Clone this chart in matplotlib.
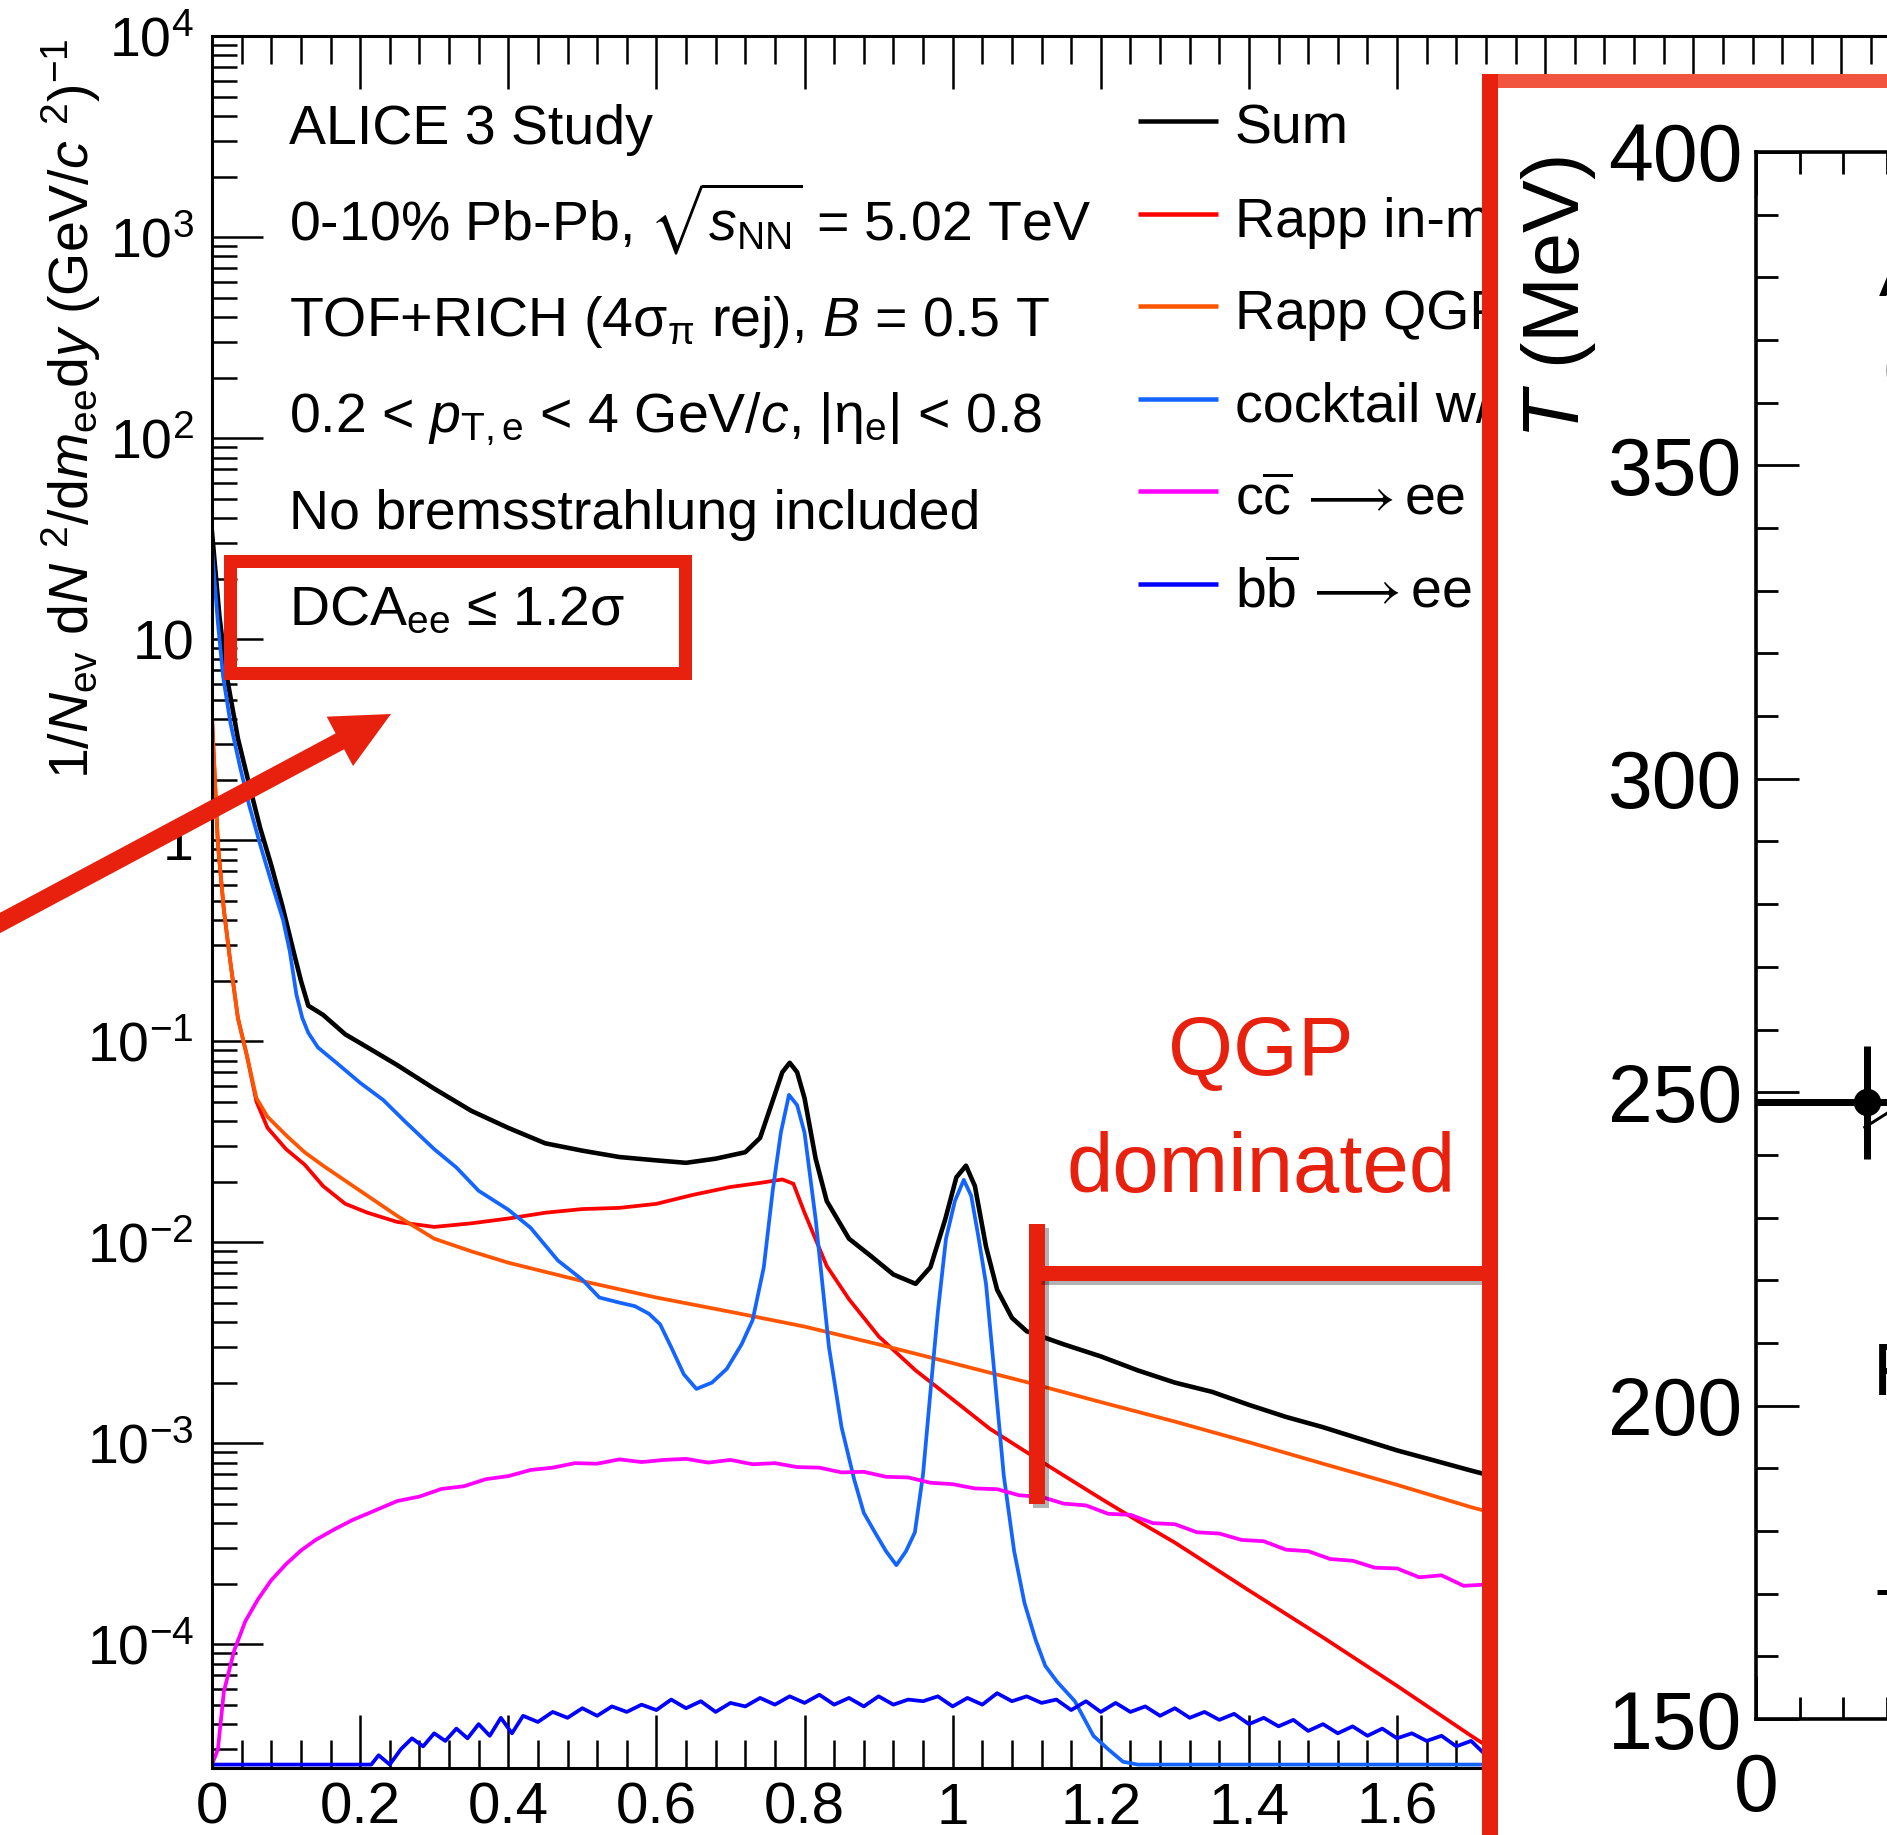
import numpy as np
import matplotlib
matplotlib.use("Agg")
import matplotlib.pyplot as plt
from matplotlib import ticker, patheffects as pe
from matplotlib.lines import Line2D
from matplotlib.patches import Rectangle, FancyArrow
from matplotlib.transforms import Affine2D, Bbox

# ---------------- dielectron invariant-mass spectra ----------------
sum_x = [0.000, 0.010, 0.020, 0.035, 0.050, 0.065, 0.080, 0.095, 0.110, 0.120,
         0.130, 0.150, 0.180, 0.210, 0.250, 0.300, 0.350, 0.400, 0.450, 0.500,
         0.550, 0.600, 0.640, 0.680, 0.720, 0.740, 0.755, 0.770, 0.780, 0.790,
         0.800, 0.815, 0.830, 0.860, 0.890, 0.920, 0.950, 0.970, 0.990, 1.005,
         1.018, 1.030, 1.045, 1.060, 1.080, 1.100, 1.150, 1.200, 1.250, 1.300,
         1.350, 1.400, 1.450, 1.500, 1.550, 1.600, 1.650, 1.700, 1.760]
sum_y = [34.0, 13.0, 6.5, 3.2, 1.9, 1.15, 0.75, 0.47, 0.28, 0.20,
         0.15, 0.135, 0.108, 0.093, 0.076, 0.058, 0.045, 0.037, 0.031, 0.0285,
         0.0265, 0.0255, 0.0248, 0.026, 0.028, 0.033, 0.048, 0.070, 0.078, 0.070,
         0.052, 0.026, 0.016, 0.0104, 0.0085, 0.0069, 0.0062, 0.0075, 0.013, 0.021,
         0.024, 0.019, 0.0095, 0.0058, 0.0042, 0.0036, 0.0031, 0.0027, 0.0023, 0.0020,
         0.0018, 0.00155, 0.00135, 0.0012, 0.00105, 0.00092, 0.00082, 0.00073, 0.00064]

med_x = [0.000, 0.008, 0.016, 0.024, 0.035, 0.047, 0.060, 0.075, 0.100, 0.125,
         0.150, 0.180, 0.210, 0.250, 0.300, 0.350, 0.400, 0.450, 0.500, 0.550,
         0.600, 0.650, 0.700, 0.740, 0.770, 0.785, 0.800, 0.830, 0.860, 0.900,
         0.950, 1.000, 1.050, 1.100, 1.150, 1.200, 1.250, 1.300, 1.400, 1.500,
         1.600, 1.700, 1.760]
med_y = [4.1, 0.95, 0.45, 0.26, 0.13, 0.085, 0.050, 0.037, 0.029, 0.0243,
         0.019, 0.0155, 0.014, 0.0126, 0.0119, 0.0124, 0.0131, 0.0140, 0.0146, 0.0148,
         0.0155, 0.0172, 0.0188, 0.0197, 0.0205, 0.0195, 0.0140, 0.0076, 0.0052, 0.0034,
         0.0023, 0.00165, 0.00118, 0.00090, 0.00069, 0.00053, 0.00041, 0.00032, 0.000185, 0.000108,
         0.000062, 0.000035, 0.000025]

qgp_x = [0.000, 0.008, 0.016, 0.024, 0.035, 0.047, 0.060, 0.075, 0.100, 0.125,
         0.150, 0.200, 0.250, 0.300, 0.350, 0.400, 0.500, 0.600, 0.700, 0.800,
         0.900, 1.000, 1.100, 1.200, 1.300, 1.400, 1.500, 1.600, 1.700, 1.760]
qgp_y = [4.1, 0.95, 0.45, 0.26, 0.13, 0.085, 0.052, 0.042, 0.034, 0.028,
         0.024, 0.018, 0.0135, 0.0104, 0.0090, 0.0079, 0.0064, 0.0053, 0.0045, 0.0038,
         0.0031, 0.0025, 0.00201, 0.00160, 0.00128, 0.00101, 0.00079, 0.00062, 0.00048, 0.00042]

ck_x = [0.000, 0.008, 0.015, 0.025, 0.038, 0.050, 0.065, 0.080, 0.096, 0.105,
        0.114, 0.122, 0.130, 0.143, 0.168, 0.200, 0.231, 0.260, 0.300, 0.330,
        0.360, 0.400, 0.430, 0.467, 0.500, 0.523, 0.550, 0.571, 0.590, 0.605,
        0.620, 0.637, 0.654, 0.675, 0.695, 0.715, 0.730, 0.745, 0.757, 0.768,
        0.779, 0.790, 0.800, 0.815, 0.833, 0.850, 0.867, 0.880, 0.895, 0.910,
        0.924, 0.937, 0.949, 0.960, 0.970, 0.980, 0.991, 1.003, 1.015, 1.025,
        1.035, 1.045, 1.057, 1.069, 1.083, 1.097, 1.112, 1.125, 1.141, 1.165,
        1.190, 1.210, 1.230, 1.250, 1.300, 1.400, 1.500, 1.600, 1.700, 1.760]
ck_y = [28.0, 12.0, 6.5, 3.8, 2.3, 1.5, 0.95, 0.62, 0.40, 0.28,
        0.17, 0.13, 0.11, 0.093, 0.078, 0.062, 0.051, 0.040, 0.029, 0.0235,
        0.018, 0.0145, 0.0118, 0.0081, 0.0065, 0.0053, 0.0050, 0.0048, 0.0044, 0.0039,
        0.0030, 0.0022, 0.00186, 0.0020, 0.00234, 0.0031, 0.0041, 0.0075, 0.018, 0.035,
        0.054, 0.048, 0.035, 0.013, 0.0030, 0.0012, 0.00066, 0.00045, 0.00036, 0.00029,
        0.000247, 0.00029, 0.00036, 0.0007, 0.0018, 0.0045, 0.0104, 0.016, 0.0204, 0.017,
        0.0105, 0.0062, 0.0021, 0.00069, 0.00029, 0.00016, 0.000105, 0.000078, 0.000065, 0.000052,
        0.000035, 0.00003, 0.000026, 0.0, 0.0, 0.0, 0.0, 0.0, 0.0, 0.0]

cc_x = [0.000, 0.008, 0.016, 0.030, 0.045, 0.062, 0.080, 0.100, 0.120, 0.140,
        0.165, 0.190, 0.220, 0.250, 0.280, 0.310, 0.340, 0.370, 0.400, 0.430,
        0.460, 0.490, 0.520, 0.550, 0.580, 0.610, 0.640, 0.670, 0.700, 0.730,
        0.760, 0.790, 0.820, 0.850, 0.880, 0.910, 0.940, 0.970, 1.000, 1.030,
        1.060, 1.090, 1.120, 1.150, 1.180, 1.210, 1.240, 1.270, 1.300, 1.330,
        1.360, 1.390, 1.420, 1.450, 1.480, 1.510, 1.540, 1.570, 1.600, 1.630,
        1.660, 1.690, 1.720, 1.760]
cc_y_e4 = [0.0, 0.30, 0.58, 0.93, 1.30, 1.67, 2.08, 2.50, 2.92, 3.30,
           3.72, 4.15, 4.62, 5.15, 5.42, 5.92, 6.10, 6.62, 6.85, 7.35,
           7.55, 7.95, 7.90, 8.30, 8.05, 8.25, 8.35, 8.00, 8.25, 7.85,
           7.95, 7.60, 7.55, 7.15, 7.20, 6.80, 6.75, 6.35, 6.25, 5.95,
           5.90, 5.50, 5.40, 5.00, 4.90, 4.45, 4.40, 4.00, 3.95, 3.60,
           3.55, 3.30, 3.25, 2.95, 2.90, 2.65, 2.60, 2.40, 2.38, 2.15,
           2.20, 1.95, 1.98, 1.85]

bb_x = [0.000, 0.215, 0.225, 0.240, 0.255, 0.270, 0.285, 0.300, 0.315, 0.330,
        0.345, 0.360, 0.375, 0.390, 0.405, 0.420, 0.440, 0.460, 0.480, 0.500,
        0.520, 0.540, 0.560, 0.580, 0.600, 0.620, 0.640, 0.660, 0.680, 0.700,
        0.720, 0.740, 0.760, 0.780, 0.800, 0.820, 0.840, 0.860, 0.880, 0.900,
        0.920, 0.940, 0.960, 0.980, 1.000, 1.020, 1.040, 1.060, 1.080, 1.100,
        1.120, 1.140, 1.160, 1.180, 1.200, 1.220, 1.240, 1.260, 1.280, 1.300,
        1.320, 1.340, 1.360, 1.380, 1.400, 1.420, 1.440, 1.460, 1.480, 1.500,
        1.520, 1.540, 1.560, 1.580, 1.600, 1.620, 1.640, 1.660, 1.680, 1.700,
        1.720, 1.740, 1.760]
bb_y_e5 = [0.0, 0.0, 2.8, 2.3, 3.0, 3.4, 3.1, 3.6, 3.3, 3.8,
           3.4, 4.0, 3.5, 4.3, 3.6, 4.4, 4.1, 4.6, 4.3, 4.8,
           4.4, 4.9, 4.6, 5.0, 4.7, 5.3, 4.8, 5.2, 4.6, 5.1,
           4.9, 5.4, 5.0, 5.5, 5.1, 5.6, 5.0, 5.4, 4.9, 5.5,
           5.0, 5.3, 5.2, 5.5, 4.9, 5.4, 5.0, 5.7, 5.2, 5.5,
           5.1, 5.3, 4.7, 5.2, 4.6, 5.1, 4.6, 4.9, 4.4, 4.8,
           4.3, 4.6, 4.2, 4.5, 4.0, 4.3, 3.9, 4.2, 3.7, 4.0,
           3.6, 3.9, 3.5, 3.8, 3.4, 3.6, 3.3, 3.5, 3.1, 3.3,
           2.8, 3.2, 3.0]

series_labels = ["Sum", "Rapp in-medium HG", "Rapp QGP", "cocktail w/o ρ",
                 r"c$\overline{\rm c}\,\longrightarrow{\rm ee}$",
                 r"b$\overline{\rm b}\,\longrightarrow{\rm ee}$"]
series_colors = ["#000000", "#ff0000", "#ff5500", "#1464ff", "#ff00ff", "#0000ff"]

info_lines = ["ALICE 3 Study",
              r"0-10% Pb-Pb, $\sqrt{s_{\rm NN}}$ = 5.02 TeV",
              r"TOF+RICH (4σ$_{\mathrm{\pi}}$ rej), $B$ = 0.5 T",
              r"0.2 < $p_{\rm T,e}$ < 4 GeV/$c$, |η$_{\rm e}$| < 0.8",
              "No bremsstrahlung included",
              "DCA$_{\\rm ee}$ \u2264 1.2σ"]

y_decades = [1e-4, 1e-3, 1e-2, 1e-1, 1.0, 10.0, 1e2, 1e3, 1e4]
y_decade_labels = [r"$10^{-4}$", r"$10^{-3}$", r"$10^{-2}$", r"$10^{-1}$", "1", "10",
                   r"$10^{2}$", r"$10^{3}$", r"$10^{4}$"]

# ---------------- temperature panel ----------------
t_x, t_xerr = [2.55], [2.55]
t_val, t_err = [248.4], [9.0]
branch_x = [2.5, 3.05]
branch_y = [244.4, 246.8]

# ---------------- figure setup ----------------
W, H, DPI = 1887, 1835, 100
PT = 72.0 / DPI          # points per pixel
RED = "#e8200e"
RED_TOP = "#f2553f"

plt.rcParams["font.family"] = ["Liberation Sans", "DejaVu Sans"]
plt.rcParams["mathtext.fontset"] = "custom"
plt.rcParams["mathtext.rm"] = "Liberation Sans"
plt.rcParams["mathtext.it"] = "Liberation Sans:italic"
plt.rcParams["mathtext.bf"] = "Liberation Sans:bold"
plt.rcParams["mathtext.sf"] = "Liberation Sans"
plt.rcParams["mathtext.fallback"] = "stixsans"

fig = plt.figure(figsize=(W / DPI, H / DPI), dpi=DPI)
PX = Affine2D().scale(1, -1).translate(0, H)   # pixel units, origin at top-left
LEFT_OF_PANEL = Bbox.from_extents(0, 0, 1482, H)


def fx(x):
    return x / W


def fy(y):
    return 1 - y / H


def seg(xs, ys, color, lw_px, z=20, **kw):
    ln = Line2D(xs, ys, transform=PX, color=color, lw=lw_px * PT, zorder=z,
                solid_capstyle="butt", **kw)
    fig.add_artist(ln)
    return ln


# ---------------- main spectrum panel ----------------
YMIN, YMAX = 2.42e-5, 1e4
ax = fig.add_axes([fx(212), fy(1768), (2434 - 212) / W, (1768 - 36) / H], zorder=0)
ax.set_yscale("log")
ax.set_xlim(0, 3.0)
ax.set_ylim(YMIN, YMAX)

floor = YMIN * 1.04
curves = [(sum_x, sum_y, 3.3), (med_x, med_y, 2.7), (qgp_x, qgp_y, 2.7),
          (ck_x, ck_y, 2.7), (cc_x, np.array(cc_y_e4) * 1e-4, 2.7),
          (bb_x, np.array(bb_y_e5) * 1e-5, 2.7)]
for (xs, ys, lw), col in zip(curves, series_colors):
    ax.plot(xs, np.clip(np.asarray(ys, float), floor, None), color=col, lw=lw)

ax.xaxis.set_major_locator(ticker.MultipleLocator(0.2))
ax.xaxis.set_minor_locator(ticker.MultipleLocator(0.04))
ax.xaxis.set_major_formatter(ticker.FuncFormatter(lambda v, p: f"{v:g}" if v < 1.7 else ""))
ax.yaxis.set_major_locator(ticker.FixedLocator(y_decades))
ax.yaxis.set_major_formatter(ticker.FixedFormatter(y_decade_labels))
ax.yaxis.set_minor_locator(ticker.LogLocator(10, subs=np.arange(2, 10), numticks=60))
ax.yaxis.set_minor_formatter(ticker.NullFormatter())

ax.tick_params(which="both", direction="in", top=True, right=True, width=1.8)
ax.tick_params(axis="x", which="major", length=38, labelsize=42, pad=10)
ax.tick_params(axis="x", which="minor", length=20)
ax.tick_params(axis="y", which="major", length=37, labelsize=40, pad=13)
ax.tick_params(axis="y", which="minor", length=18)
for s in ax.spines.values():
    s.set_linewidth(2.2)

fig.text(fx(71), fy(38),
         r"1/$N_{\rm ev}$ d$N$ $^{2}$/d$m_{\rm ee}$d$y$ (GeV/$c$ $^{2}$)$^{-1}$",
         rotation=90, ha="center", va="top", fontsize=40)

for i, s in enumerate(info_lines):
    fig.text(fx(289), fy(144 + 96.2 * i), s, fontsize=40, va="baseline", ha="left", zorder=3)

for i, (lab, col) in enumerate(zip(series_labels, series_colors)):
    yb = 144 + 92.6 * i
    seg([1138, 1218], [yb - 23, yb - 23], col, 4.5, z=3)
    t = fig.text(fx(1235), fy(yb), lab, fontsize=40, va="baseline", ha="left", zorder=3)
    t.set_clip_box(LEFT_OF_PANEL)
    t.set_clip_on(True)

# ---------------- annotations ----------------
fig.add_artist(Rectangle((230, 561), 455, 112, transform=PX, fill=False,
                         ec=RED, lw=13 * PT, zorder=20))
fig.add_artist(FancyArrow(-30, 939, 421, -225, width=18, head_width=56, head_length=58,
                          length_includes_head=True, transform=PX, color=RED, lw=0, zorder=20))

shadow = [pe.SimpleLineShadow(offset=(3, -3), shadow_color="black", alpha=0.3), pe.Normal()]
seg([1037, 1037], [1224, 1504], RED, 16, path_effects=shadow)
seg([1037, 1490], [1273, 1273], RED, 15, path_effects=shadow)

fig.text(fx(1261), fy(1075), "QGP", ha="center", va="baseline", fontsize=60, color=RED, zorder=6)
fig.text(fx(1261), fy(1192), "dominated", ha="center", va="baseline", fontsize=60, color=RED, zorder=6)

# ---------------- temperature panel ----------------
fig.add_artist(Rectangle((1490, 81), 700, 1900, transform=PX, fc="white", ec="none", zorder=5))
seg([1490, 1490], [74, 1950], RED, 16, z=20)
seg([1482, 1990], [81, 81], RED_TOP, 14, z=19)

iax = fig.add_axes([fx(1756), fy(1719), 435 / W, (1719 - 152) / H], zorder=10)
iax.set_facecolor("white")
iax.set_xlim(0, 10)
iax.set_ylim(150, 400)
iax.xaxis.set_major_locator(ticker.MultipleLocator(5))
iax.xaxis.set_minor_locator(ticker.MultipleLocator(1))
iax.xaxis.set_major_formatter(ticker.FuncFormatter(lambda v, p: f"{v:g}" if v < 1 else ""))
iax.yaxis.set_major_locator(ticker.MultipleLocator(50))
iax.yaxis.set_minor_locator(ticker.MultipleLocator(10))
iax.tick_params(which="both", direction="in", top=True, right=True, width=2.0, labelsize=58)
iax.tick_params(which="major", length=31)
iax.tick_params(which="minor", length=16)
iax.tick_params(axis="y", pad=10)
iax.tick_params(axis="x", pad=24)
for s in iax.spines.values():
    s.set_linewidth(2.6)

iax.errorbar(t_x, t_val, xerr=t_xerr, yerr=t_err, fmt="o", color="k",
             ms=26 * PT, elinewidth=7 * PT, capsize=0)
iax.plot(branch_x, branch_y, color="k", lw=3 * PT)

fig.text(fx(1559), fy(298), r"$T$ (MeV)", rotation=90, ha="center", va="center",
         fontsize=57, zorder=12)
fig.text(fx(1879), fy(296), "A", fontsize=54, va="baseline", ha="left", zorder=12)
fig.text(fx(1881), fy(390), "(", fontsize=54, va="baseline", ha="left", zorder=12)
fig.text(fx(1873), fy(1395), "F", fontsize=54, va="baseline", ha="left", zorder=12)
seg([1877, 1950], [1592, 1592], "k", 5, z=12)

fig.savefig("out.png", dpi=DPI)
